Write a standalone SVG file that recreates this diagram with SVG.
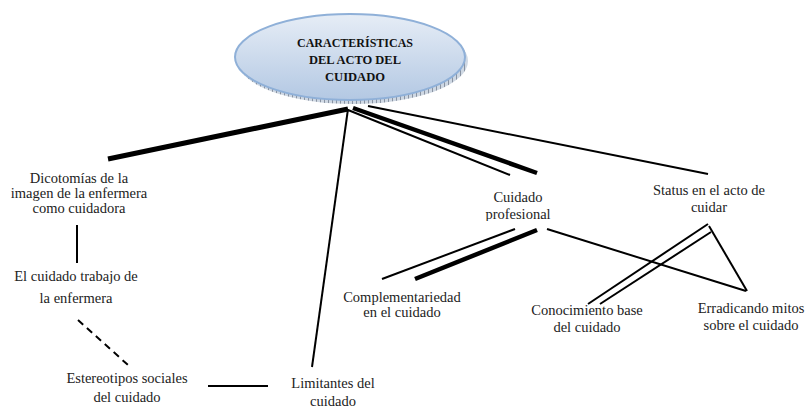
<svg xmlns="http://www.w3.org/2000/svg" width="807" height="408" viewBox="0 0 807 408">
<defs>
<linearGradient id="g" x1="0" y1="0" x2="0" y2="1">
<stop offset="0" stop-color="#e6edf6"/>
<stop offset="1" stop-color="#b3c8e3"/>
</linearGradient>
<pattern id="hatch" width="4" height="4" patternUnits="userSpaceOnUse">
<rect width="4" height="4" fill="#cfd8e3"/>
<line x1="0.5" y1="0" x2="0.5" y2="4" stroke="#6a7685" stroke-width="0.7"/>
</pattern>
<clipPath id="clipCP"><rect x="440" y="180" width="160" height="41"/></clipPath>
<style>
.t{font-family:"Liberation Serif","Times New Roman",serif;font-size:14.5px;fill:#222;text-anchor:middle}
.h{font-family:"Liberation Serif","Times New Roman",serif;font-size:13.5px;font-weight:bold;fill:#111;text-anchor:middle}
.l{stroke:#000;fill:none;stroke-width:2}
.lt{stroke:#000;fill:none;stroke-width:4.5}
</style>
</defs>
<g id="connectors">
<line x1="348" y1="109" x2="108" y2="159" stroke="#000" stroke-width="5"/>
<line class="l" x1="348" y1="109" x2="312" y2="367"/>
<line class="l" x1="348" y1="110" x2="510" y2="175"/>
<line class="lt" x1="353" y1="108" x2="537" y2="173"/>
<line class="l" x1="368" y1="106" x2="708" y2="174"/>
<line class="l" x1="77" y1="225" x2="77" y2="263"/>
<line class="l" x1="78" y1="320" x2="128" y2="365" stroke-dasharray="7,5"/>
<line class="l" x1="208" y1="386" x2="268" y2="386"/>
<line class="l" x1="515" y1="229" x2="382" y2="279"/>
<line class="lt" x1="537" y1="230" x2="415" y2="279"/>
<line class="l" x1="547" y1="229" x2="746" y2="291"/>
<line class="l" x1="708" y1="224" x2="588" y2="304"/>
<line class="l" x1="711" y1="232" x2="600" y2="304"/>
<line class="l" x1="709" y1="226" x2="747" y2="291"/>
</g>
<g id="title">
<ellipse cx="353" cy="61" rx="115" ry="43" fill="url(#hatch)"/>
<ellipse cx="350" cy="57" rx="115" ry="43" fill="url(#g)" stroke="#8fb0d8" stroke-width="2"/>
<text class="h" x="355" y="47" textLength="116" lengthAdjust="spacingAndGlyphs">CARACTERÍSTICAS</text>
<text class="h" x="355" y="64" textLength="92" lengthAdjust="spacingAndGlyphs">DEL ACTO DEL</text>
<text class="h" x="355" y="81" textLength="60" lengthAdjust="spacingAndGlyphs">CUIDADO</text>
</g>
<g id="dicotomias">
<text class="t" x="79" y="183">Dicotomías de la</text>
<text class="t" x="79" y="198">imagen de la enfermera</text>
<text class="t" x="79" y="213">como cuidadora</text>
</g>
<g id="trabajo">
<text class="t" x="76" y="281">El cuidado trabajo de</text>
<text class="t" x="76" y="303">la enfermera</text>
</g>
<g id="estereotipos">
<text class="t" x="127" y="383">Estereotipos sociales</text>
<text class="t" x="127" y="402">del cuidado</text>
</g>
<g id="limitantes">
<text class="t" x="333" y="388">Limitantes del</text>
<text class="t" x="333" y="406">cuidado</text>
</g>
<g id="profesional" clip-path="url(#clipCP)">
<text class="t" x="518" y="202">Cuidado</text>
<text class="t" x="518" y="219">profesional</text>
</g>
<g id="status">
<text class="t" x="709" y="195">Status en el acto de</text>
<text class="t" x="709" y="212">cuidar</text>
</g>
<g id="complementariedad">
<text class="t" x="402" y="302">Complementariedad</text>
<text class="t" x="402" y="317">en el cuidado</text>
</g>
<g id="conocimiento">
<text class="t" x="587" y="315">Conocimiento base</text>
<text class="t" x="587" y="332">del cuidado</text>
</g>
<g id="erradicando">
<text class="t" x="751" y="313">Erradicando mitos</text>
<text class="t" x="751" y="330">sobre el cuidado</text>
</g>
</svg>
